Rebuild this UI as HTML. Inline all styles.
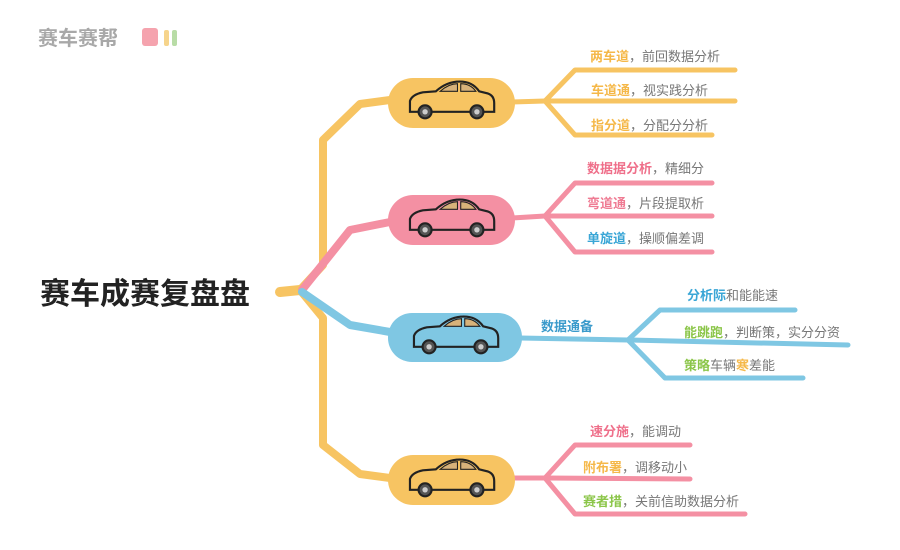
<!DOCTYPE html>
<html><head><meta charset="utf-8"><style>
html,body{margin:0;padding:0;background:#fff;}
svg{display:block;}
text{font-family:"Liberation Sans","Noto Sans CJK SC",sans-serif;}
</style></head><body>
<svg width="900" height="550" viewBox="0 0 900 550" xmlns="http://www.w3.org/2000/svg">
<defs>
<g id="car">
  <path d="M-38,10 L-38,0 Q-36,-6 -26,-8 L-14,-9 Q-4,-18 8,-18 Q20,-18 26,-9 L34,-7 Q40,-5 40,2 L40,10 Z" fill="none" stroke="#222" stroke-width="2"/>
  <path d="M-10,-9 Q-2,-16 6,-16 L6,-9 Z M9,-16 Q18,-16 23,-9 L9,-9 Z" fill="#d7b27a" stroke="#222" stroke-width="1"/>
  <circle cx="-24" cy="10" r="6" fill="#555" stroke="#222" stroke-width="2"/>
  <circle cx="24" cy="10" r="6" fill="#555" stroke="#222" stroke-width="2"/>
  <circle cx="-24" cy="10" r="2.5" fill="#ccc"/>
  <circle cx="24" cy="10" r="2.5" fill="#ccc"/>
</g>
</defs>

<!-- logo -->
<text x="38" y="45" font-size="20" font-weight="bold" fill="#a8a8a8">赛车赛帮</text>
<rect x="142" y="28" width="16" height="18" rx="3" fill="#f5a3ae"/>
<rect x="164" y="30" width="5" height="16" rx="2" fill="#f6d48b"/>
<rect x="172" y="30" width="5" height="16" rx="2" fill="#b8dca6"/>

<!-- title -->
<text x="40" y="304" font-size="30" font-weight="bold" fill="#222">赛车成赛复盘盘</text>

<!-- spine -->
<g fill="none" stroke-width="8" stroke-linejoin="round" stroke-linecap="round">
<path d="M390,100 L360,104 L323,140 L323,265 L300,290 L323,318 L323,445 L360,474 L390,478" stroke="#f7c462"/>
<path d="M280,292 L300,290" stroke="#f7c462" stroke-width="10"/>
<path d="M302,290 L350,230 L390,222" stroke="#f490a3"/>
<path d="M302,292 L350,325 L390,332" stroke="#7fc7e3"/>

<g stroke="#f7c462" stroke-width="5">
<path d="M512,102 L545,101"/>
<path d="M545,101 L575,70 L735,70"/>
<path d="M545,101 L735,101"/>
<path d="M545,101 L575,135 L712,135"/>
</g>
<g stroke="#f490a3" stroke-width="5">
<path d="M512,218 L545,216"/>
<path d="M545,216 L575,183 L712,183"/>
<path d="M545,216 L712,216"/>
<path d="M545,216 L575,252 L712,252"/>
</g>
<g stroke="#7fc7e3" stroke-width="5">
<path d="M520,338 L628,340"/>
<path d="M628,340 L660,310 L795,310"/>
<path d="M628,340 L848,345"/>
<path d="M628,340 L665,378 L803,378"/>
</g>
<g stroke="#f490a3" stroke-width="5">
<path d="M512,478 L545,478"/>
<path d="M545,478 L575,445 L690,445"/>
<path d="M545,478 L690,479"/>
<path d="M545,478 L575,514 L745,514"/>
</g>
</g>

<!-- nodes -->
<rect x="388" y="78" width="127" height="50" rx="25" fill="#f7c462"/>
<rect x="388" y="195" width="127" height="50" rx="25" fill="#f490a3"/>
<rect x="388" y="313" width="134" height="49" rx="24" fill="#7fc7e3"/>
<rect x="388" y="455" width="127" height="50" rx="25" fill="#f7c462"/>
<use href="#car" transform="translate(451,101) scale(1.08)"/>
<use href="#car" transform="translate(451,219) scale(1.08)"/>
<use href="#car" transform="translate(455,336) scale(1.08)"/>
<use href="#car" transform="translate(451,479) scale(1.08)"/>

<!-- labels -->
<g font-size="13" fill="#777">
<text x="590" y="61"><tspan fill="#f5b849" font-weight="bold">两车道</tspan>，前回数据分析</text>
<text x="591" y="95"><tspan fill="#f5b849" font-weight="bold">车道通</tspan>，视实践分析</text>
<text x="591" y="130"><tspan fill="#f5b849" font-weight="bold">指分道</tspan>，分配分分析</text>

<text x="587" y="173"><tspan fill="#ef6f8a" font-weight="bold">数据据分析</tspan>，精细分</text>
<text x="587" y="208"><tspan fill="#ef7b93" font-weight="bold">弯道通</tspan>，片段提取析</text>
<text x="587" y="243"><tspan fill="#3aa6d6" font-weight="bold">单旋道</tspan>，操顺偏差调</text>

<text x="541" y="331" fill="#3a9acb" font-weight="bold">数据通备</text>
<text x="687" y="300"><tspan fill="#3aa6d6" font-weight="bold">分析际</tspan>和能能速</text>
<text x="684" y="337"><tspan fill="#8cc64a" font-weight="bold">能跳跑</tspan>，判断策，实分分资</text>
<text x="684" y="370"><tspan fill="#8cc64a" font-weight="bold">策略</tspan>车辆<tspan fill="#f5b849" font-weight="bold">寒</tspan>差能</text>

<text x="590" y="436"><tspan fill="#ef6f8a" font-weight="bold">速分施</tspan>，能调动</text>
<text x="583" y="472"><tspan fill="#f5b849" font-weight="bold">附布署</tspan>，调移动小</text>
<text x="583" y="506"><tspan fill="#8cc64a" font-weight="bold">赛者措</tspan>，关前信助数据分析</text>
</g>
</svg>
</body></html>
